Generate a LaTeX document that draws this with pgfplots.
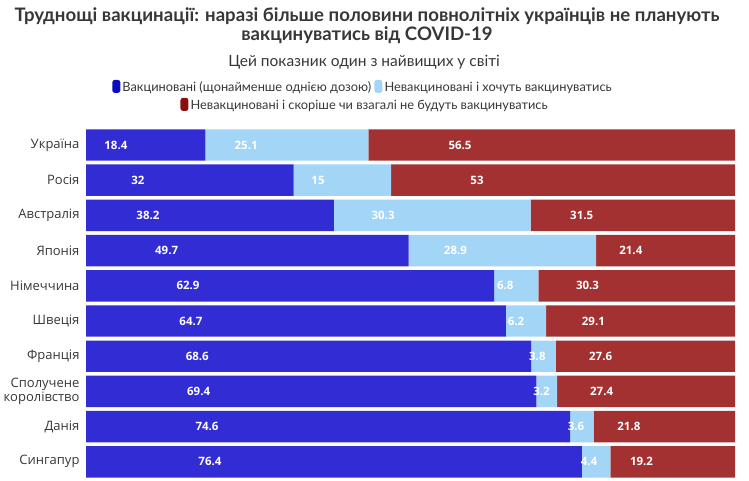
\documentclass[border=0pt]{standalone}
\usepackage{fontspec}
\setmainfont{Open Sans}
\newfontfamily\latofont{Lato}
\usepackage{pgfplots}
\usepackage{pgfplotstable}
\pgfplotsset{compat=1.18}
\definecolor{cblue}{RGB}{50,44,212}
\definecolor{clight}{RGB}{163,213,246}
\definecolor{cred}{RGB}{163,49,49}
\definecolor{lblue}{RGB}{12,12,190}
\definecolor{lred}{RGB}{138,14,14}
\definecolor{ctext}{RGB}{55,55,55}
\pgfplotstableread{
idx vac want no
0 18.4 25.1 56.5
1 32 15 53
2 38.2 30.3 31.5
3 49.7 28.9 21.4
4 62.9 6.8 30.3
5 64.7 6.2 29.1
6 68.6 3.8 27.6
7 69.4 3.2 27.4
8 74.6 3.6 21.8
9 76.4 4.4 19.2
}\datatable
\newcommand{\swatch}[1]{\tikz[baseline=-1pt]\fill[#1,rounded corners=2.5pt] (0,-2pt) rectangle (8pt,11pt);}
\begin{document}
\begin{tikzpicture}
\path[use as bounding box] (0,0) rectangle (749pt,480pt);
\node[font=\latofont\bfseries\fontsize{18.6}{20}\selectfont, text=ctext] at (367pt,464pt) {Труднощі вакцинації: наразі більше половини повнолітніх українців не планують};
\node[font=\latofont\bfseries\fontsize{18.6}{20}\selectfont, text=ctext] at (367pt,445pt) {вакцинуватись від COVID-19};
\node[font=\latofont\fontsize{15.5}{17}\selectfont, text=ctext] at (364pt,418pt) {Цей показник один з найвищих у світі};
\node[font=\latofont\fontsize{12.8}{14}\selectfont, text=ctext, inner sep=0pt] at (362pt,393pt) {\swatch{lblue}\,Вакциновані (щонайменше однією дозою) \swatch{clight}\,Невакциновані і хочуть вакцинуватись};
\node[font=\latofont\fontsize{12.8}{14}\selectfont, text=ctext, inner sep=0pt] at (364pt,375pt) {\swatch{lred}\,Невакциновані і скоріше чи взагалі не будуть вакцинуватись};
\begin{axis}[
  at={(86pt,0.6pt)}, anchor=south west,
  scale only axis, width=649pt, height=352pt,
  xbar stacked, bar width=31.4pt,
  xmin=0, xmax=100, ymin=-0.5, ymax=9.5,
  y dir=reverse,
  hide x axis,
  axis line style={draw=none},
  major tick length=0pt,
  ytick={0,...,9},
  yticklabels={Україна, Росія, Австралія, Японія, Німеччина, Швеція, Франція, {Сполучене\\королівство}, Данія, Сингапур},
  yticklabel style={align=right, font=\fontsize{13}{14}\selectfont, text=ctext, xshift=-3pt},
  point meta=explicit symbolic,
  nodes near coords,
  every node near coord/.append style={anchor=center, xshift={-1.6225pt*\w}, font=\bfseries\fontsize{11.5}{12}\selectfont, text=white},
  clip=false,
]
\addplot[fill=cblue, draw=none, visualization depends on={\thisrow{vac} \as \w}] table[x=vac, y=idx, meta=vac] \datatable;
\addplot[fill=clight, draw=none, visualization depends on={\thisrow{want} \as \w}] table[x=want, y=idx, meta=want] \datatable;
\addplot[fill=cred, draw=none, visualization depends on={\thisrow{no} \as \w}] table[x=no, y=idx, meta=no] \datatable;
\end{axis}
\end{tikzpicture}
\end{document}
